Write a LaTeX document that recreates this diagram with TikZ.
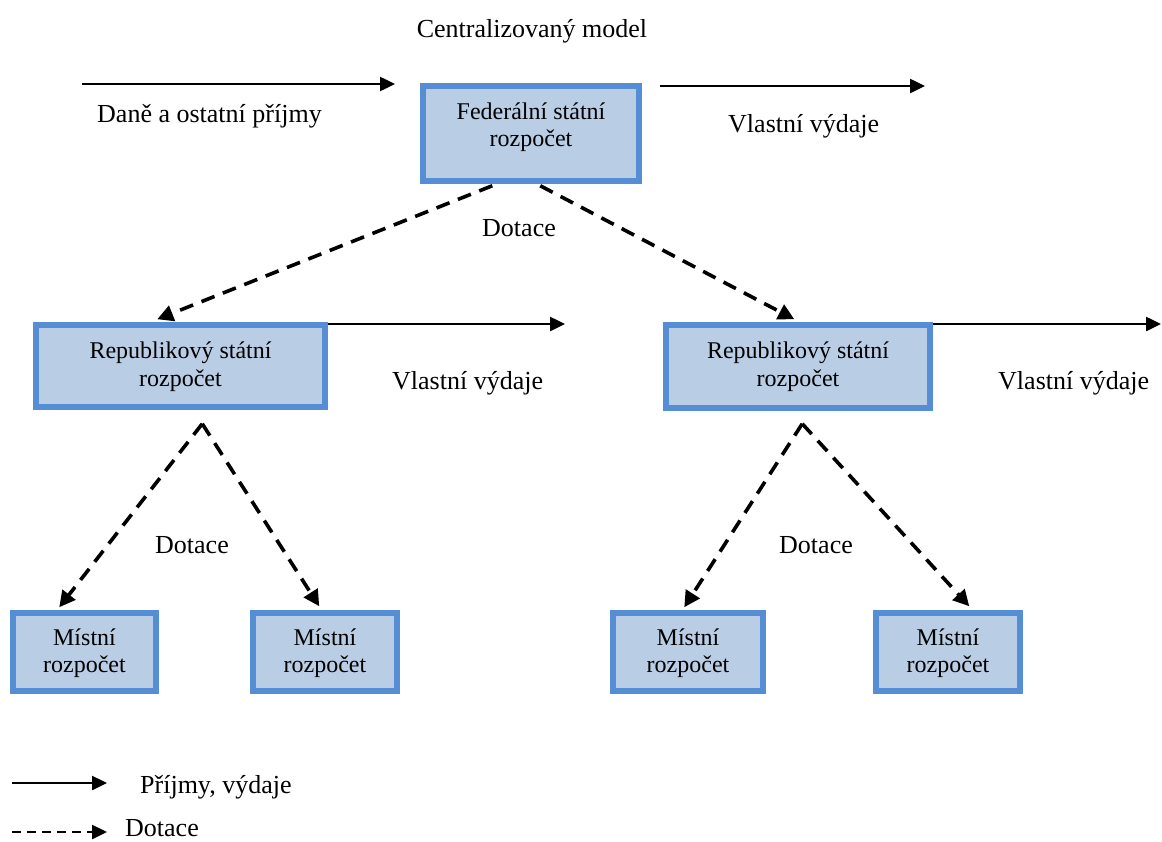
\documentclass[tikz,border=0pt]{standalone}
\usepackage{fontspec}
\setmainfont{Liberation Serif}
\usetikzlibrary{arrows.meta,calc}
\definecolor{boxfill}{RGB}{185,205,229}
\definecolor{boxline}{RGB}{85,142,213}
\begin{document}
\begin{tikzpicture}[x=1pt,y=-1pt,
  budget/.style={draw=boxline, fill=boxfill, line width=5.5pt, inner sep=0pt},
  btxt/.style={font=\fontsize{24}{27}\selectfont, inner sep=0pt, anchor=base},
  lbl/.style={font=\fontsize{26}{30}\selectfont, inner sep=0pt, anchor=base west},
  flow/.style={line width=2.5pt, -{Triangle[length=15pt,width=14pt]}},
  grant/.style={line width=3.6pt, dash pattern=on 14pt off 9pt, -{Triangle[length=16pt,width=16pt]}}]
\useasboundingbox (0,0) rectangle (1162,841);

% title
\node[lbl, anchor=base] (title) at (532,37) {Centralizovaný model};

% boxes
\node[budget, minimum width=216pt, minimum height=95pt] (fed) at (531,133.5) {};
\node[btxt] (fedA) at ([yshift=-36pt]fed.north) {Federální státní};
\node[btxt] (fedB) at ([yshift=-63pt]fed.north) {rozpočet};

\node[budget, minimum width=289pt, minimum height=82pt] (rep1) at (180.5,366) {};
\node[btxt] (rep1A) at ([yshift=-36pt]rep1.north) {Republikový státní};
\node[btxt] (rep1B) at ([yshift=-64pt]rep1.north) {rozpočet};

\node[budget, minimum width=264pt, minimum height=83pt] (rep2) at (798,366.5) {};
\node[btxt] (rep2A) at ([yshift=-36pt]rep2.north) {Republikový státní};
\node[btxt] (rep2B) at ([yshift=-64pt]rep2.north) {rozpočet};

\node[budget, minimum width=143pt, minimum height=78pt] (m1) at (84.5,652) {};
\node[budget, minimum width=144pt, minimum height=78pt] (m2) at (325,652) {};
\node[budget, minimum width=150pt, minimum height=78pt] (m3) at (688,652) {};
\node[budget, minimum width=144pt, minimum height=78pt] (m4) at (948,652) {};
\foreach \m in {m1,m2,m3,m4}{
  \node[btxt] at ([yshift=-35pt]\m.north) {Místní};
  \node[btxt] at ([yshift=-62pt]\m.north) {rozpočet};
}

% free ends
\coordinate (inS) at (82,84);
\coordinate (inE) at (395,84);
\coordinate (outE) at (925,86);
\coordinate (r1E) at (565,324);
\coordinate (r2E) at (1161,324);

% solid flows
\draw[flow] (inS) -- (inE);
\draw[flow] ([xshift=18pt]fed.north east |- outE) -- (outE);
\draw[flow] (rep1.north east |- r1E) -- (r1E);
\draw[flow] (rep2.north east |- r2E) -- (r2E);

% dashed grants
\draw[grant] ($(fed.south west)+(72,2)$) -- ($(rep1.north west)+(124,-3)$);
\draw[grant] ($(fed.south west)+(120,2)$) -- ($(rep2.north west)+(131,-3)$);
\coordinate (a1) at ($(rep1.south west)+(169,14)$);
\coordinate (a2) at ($(rep2.south west)+(139,13)$);
\draw[grant] (a1) -- ($(m1.north west)+(49,-3)$);
\draw[grant] (a1) -- ($(m2.north west)+(69,-4)$);
\draw[grant] (a2) -- ($(m3.north west)+(74,-3)$);
\draw[grant] (a2) -- ($(m4.north west)+(96,-4)$);

% labels
\node[lbl] (lin) at (97,122) {Daně a ostatní příjmy};
\node[lbl] (lout) at (728,132) {Vlastní výdaje};
\node[lbl] (lout1) at (392,389) {Vlastní výdaje};
\node[lbl] (lout2) at (998,389) {Vlastní výdaje};
\node[lbl] (d0) at (482,236) {Dotace};
\node[lbl] (d1) at (155,553) {Dotace};
\node[lbl] (d2) at (779,553) {Dotace};

% legend
\coordinate (lgA) at (12,783);
\coordinate (lgB) at (107,783);
\coordinate (lgC) at (12,832);
\coordinate (lgD) at (107,832);
\draw[flow] (lgA) -- (lgB);
\draw[line width=2.5pt, dash pattern=on 9pt off 6pt, -{Triangle[length=15pt,width=14pt]}] (lgC) -- (lgD);
\node[lbl] (leg1) at (140,793) {Příjmy, výdaje};
\node[lbl] (leg2) at (125,836) {Dotace};
\end{tikzpicture}
\end{document}
